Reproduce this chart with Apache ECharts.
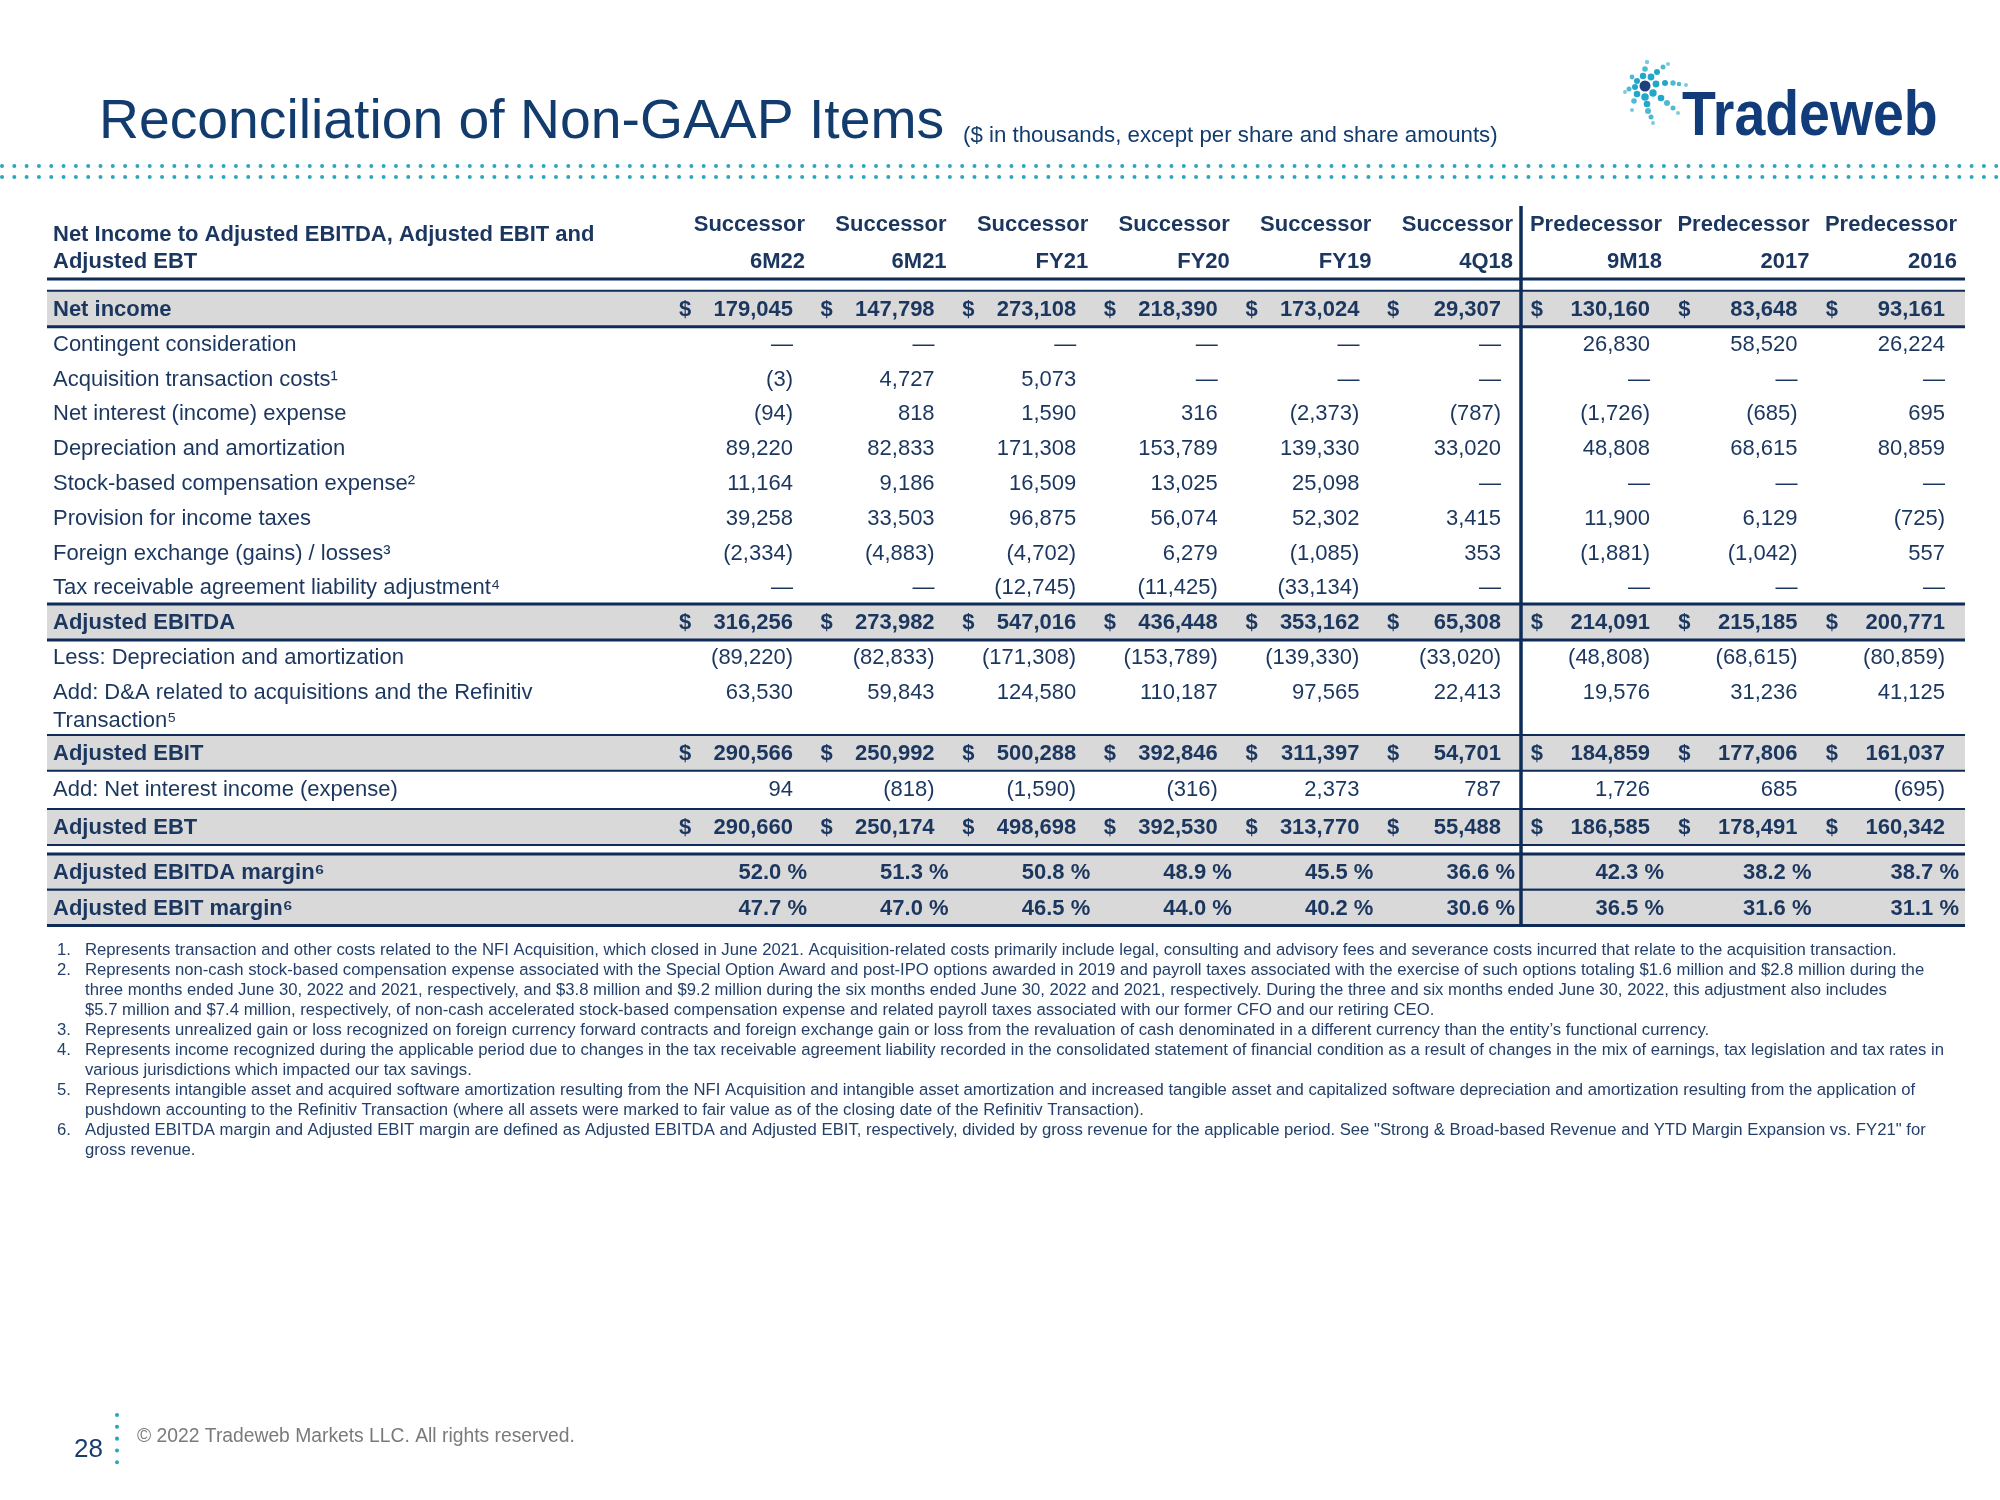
<!DOCTYPE html>
<html><head><meta charset="utf-8">
<script src="https://cdn.jsdelivr.net/npm/echarts@6/dist/echarts.min.js"></script>
<style>html,body{margin:0;padding:0;background:#fff}#c{width:2000px;height:1500px}</style>
</head><body><div id="c"></div>
<script>
// ================= DATA =================
const entities = ['Successor','Successor','Successor','Successor','Successor','Successor','Predecessor','Predecessor','Predecessor'];
const periods  = ['6M22','6M21','FY21','FY20','FY19','4Q18','9M18','2017','2016'];
const tableTitle = ['Net Income to Adjusted EBITDA, Adjusted EBIT and', 'Adjusted EBT'];
const rowLabels = [
  'Net income',
  'Contingent consideration',
  'Acquisition transaction costs\u00B9',
  'Net interest (income) expense',
  'Depreciation and amortization',
  'Stock-based compensation expense\u00B2',
  'Provision for income taxes',
  'Foreign exchange (gains) / losses\u00B3',
  'Tax receivable agreement liability adjustment\u2074',
  'Adjusted EBITDA',
  'Less: Depreciation and amortization',
  'Add: D&A related to acquisitions and the Refinitiv\nTransaction\u2075',
  'Adjusted EBIT',
  'Add: Net interest income (expense)',
  'Adjusted EBT',
  'Adjusted EBITDA margin\u2076',
  'Adjusted EBIT margin\u2076'
];
const netIncome    = [179045, 147798, 273108, 218390, 173024, 29307, 130160, 83648, 93161];
const contingent   = [null, null, null, null, null, null, 26830, 58520, 26224];
const acqCosts     = [-3, 4727, 5073, null, null, null, null, null, null];
const netInterest  = [-94, 818, 1590, 316, -2373, -787, -1726, -685, 695];
const depAmort     = [89220, 82833, 171308, 153789, 139330, 33020, 48808, 68615, 80859];
const stockComp    = [11164, 9186, 16509, 13025, 25098, null, null, null, null];
const incomeTaxes  = [39258, 33503, 96875, 56074, 52302, 3415, 11900, 6129, -725];
const fxGainsLoss  = [-2334, -4883, -4702, 6279, -1085, 353, -1881, -1042, 557];
const traAdjust    = [null, null, -12745, -11425, -33134, null, null, null, null];
const adjEbitda    = [316256, 273982, 547016, 436448, 353162, 65308, 214091, 215185, 200771];
const lessDepAmort = [-89220, -82833, -171308, -153789, -139330, -33020, -48808, -68615, -80859];
const addAcqDA     = [63530, 59843, 124580, 110187, 97565, 22413, 19576, 31236, 41125];
const adjEbit      = [290566, 250992, 500288, 392846, 311397, 54701, 184859, 177806, 161037];
const addInterest  = [94, -818, -1590, -316, 2373, 787, 1726, 685, -695];
const adjEbt       = [290660, 250174, 498698, 392530, 313770, 55488, 186585, 178491, 160342];
const ebitdaMargin = [52.0, 51.3, 50.8, 48.9, 45.5, 36.6, 42.3, 38.2, 38.7];
const ebitMargin   = [47.7, 47.0, 46.5, 44.0, 40.2, 30.6, 36.5, 31.6, 31.1];
const rowKind = ['total','item','item','item','item','item','item','item','item','total','item','item','total','item','total','pct','pct'];
const footnotes = [
  ['1.', 'Represents transaction and other costs related to the NFI Acquisition, which closed in June 2021. Acquisition-related costs primarily include legal, consulting and advisory fees and severance costs incurred that relate to the acquisition transaction.'],
  ['2.', 'Represents non-cash stock-based compensation expense associated with the Special Option Award and post-IPO options awarded in 2019 and payroll taxes associated with the exercise of such options totaling $1.6 million and $2.8 million during the'],
  ['',   'three months ended June 30, 2022 and 2021, respectively, and $3.8 million and $9.2 million during the six months ended June 30, 2022 and 2021, respectively. During the three and six months ended June 30, 2022, this adjustment also includes'],
  ['',   '$5.7 million and $7.4 million, respectively, of non-cash accelerated stock-based compensation expense and related payroll taxes associated with our former CFO and our retiring CEO.'],
  ['3.', 'Represents unrealized gain or loss recognized on foreign currency forward contracts and foreign exchange gain or loss from the revaluation of cash denominated in a different currency than the entity\u2019s functional currency.'],
  ['4.', 'Represents income recognized during the applicable period due to changes in the tax receivable agreement liability recorded in the consolidated statement of financial condition as a result of changes in the mix of earnings, tax legislation and tax rates in'],
  ['',   'various jurisdictions which impacted our tax savings.'],
  ['5.', 'Represents intangible asset and acquired software amortization resulting from the NFI Acquisition and intangible asset amortization and increased tangible asset and capitalized software depreciation and amortization resulting from the application of'],
  ['',   'pushdown accounting to the Refinitiv Transaction (where all assets were marked to fair value as of the closing date of the Refinitiv Transaction).'],
  ['6.', 'Adjusted EBITDA margin and Adjusted EBIT margin are defined as Adjusted EBITDA and Adjusted EBIT, respectively, divided by gross revenue for the applicable period. See "Strong & Broad-based Revenue and YTD Margin Expansion vs. FY21" for'],
  ['',   'gross revenue.']
];
const pageTitle = 'Reconciliation of Non-GAAP Items';
const pageSubtitle = '($ in thousands, except per share and share amounts)';
const pageNumber = '28';
const copyright = '\u00A9 2022 Tradeweb Markets LLC. All rights reserved.';
const tableRows = [netIncome, contingent, acqCosts, netInterest, depAmort, stockComp, incomeTaxes,
  fxGainsLoss, traAdjust, adjEbitda, lessDepAmort, addAcqDA, adjEbit, addInterest, adjEbt, ebitdaMargin, ebitMargin];

// ================= LAYOUT / STYLE =================
const FONT = '"Liberation Sans", Arial, sans-serif';
const TEXT = '#1b365f';
const LINE = '#0f2c59';
const BAND = '#d9d9d9';
const TITLE_C = '#123c6e';
const ROW_SLOT = [0,1,2,3,4,5,6,7,8,9,10,11,12.76,13.79,14.89,16.18,17.21];
const HEAD_SLOT = [-2.44, -1.38];
const TITLE_SLOT = [-2.16, -1.38];
const LINE2_STEP = 0.8;
const BAND_ROWS = [0, 9, 12, 14, 15, 16];
const BAND_W = [[2,3],[3,3],[2,2],[2,2],[3,2],[2,3]];
const TABLE_L = 47, TABLE_R = 1965, LABEL_X = 53, DIVIDER_X = 1521;
const SLOT_MIN = -3, SLOT_MAX = 18;
// logo sunburst dots: [x, y, r, colour index]
const LOGO_DOTS = [
  [1656,84,3.4,0],[1665,83,3,0],[1673,83,2.7,1],[1679,84,2.3,1],[1686,85,2,2],
  [1651,77,3.4,0],[1657,72,3,0],[1663,67,2.5,1],[1668,64,2,2],
  [1643,76,3.2,0],[1645,69,2.8,1],[1647,62,2.2,2],
  [1637,81,3,0],[1632,77,2.4,1],
  [1635,87,3,0],[1629,89,2.5,1],[1625,92,2,2],
  [1637,94,3.3,0],[1634,101,2.8,1],[1632,110,2.1,2],
  [1645,97,3.8,0],[1647,104,3.3,0],[1648,111,3,1],[1651,117,2.5,1],[1653,123,2,2],
  [1653,93,3.7,0],[1661,98,3.3,0],[1667,103,3,1],[1673,108,2.5,1],[1678,113,2,2]
];
const LOGO_COLS = ['#23a7c9', '#4fb9d4', '#7fcadd'];

function fmtNum(v) {
  if (v === null || v === undefined) return '\u2014';
  const s = String(Math.abs(v)).replace(/\B(?=(\d{3})+(?!\d))/g, ',');
  return v < 0 ? '(' + s + ')' : s;
}
function txt(x, y, s, align, bold, size, color) {
  return { type: 'text', x: x, y: y, style: {
    text: s, fill: color || TEXT, fontSize: size || 22, fontFamily: FONT,
    fontWeight: bold ? 'bold' : 'normal', align: align, verticalAlign: 'middle' } };
}

const chart = echarts.init(document.getElementById('c'), null, { renderer: 'canvas' });

const gridTop = 205.6, gridH = 730.8;
const grids = [
  { left: 663.4, width: 849.6, top: gridTop, height: gridH },
  { left: 1514.5, width: 442.5, top: gridTop, height: gridH }
];
const colGroups = [[0,1,2,3,4,5],[6,7,8]];

// band/line series data
const bandData = BAND_ROWS.map((r, k) => [0, ROW_SLOT[r], 0, k]);
bandData.push([0, -0.89, 1, 0]);   // header underline
bandData.push([0, 0, 2, 0]);       // vertical divider

function renderBand(params, api) {
  const kind = api.value(2), k = api.value(3), slot = api.value(1);
  if (kind === 0) {
    const y1 = api.coord([0, slot - 0.55])[1], y2 = api.coord([0, slot + 0.48])[1];
    const w = BAND_W[k];
    return { type: 'group', children: [
      { type: 'rect', shape: { x: TABLE_L, y: y1, width: TABLE_R - TABLE_L, height: y2 - y1 }, style: { fill: BAND } },
      { type: 'line', shape: { x1: TABLE_L, y1: y1, x2: TABLE_R, y2: y1 }, style: { stroke: LINE, lineWidth: w[0] } },
      { type: 'line', shape: { x1: TABLE_L, y1: y2, x2: TABLE_R, y2: y2 }, style: { stroke: LINE, lineWidth: w[1] } }
    ]};
  } else if (kind === 1) {
    const y = api.coord([0, slot])[1];
    return { type: 'line', shape: { x1: TABLE_L, y1: y, x2: TABLE_R, y2: y }, style: { stroke: LINE, lineWidth: 3 } };
  } else {
    const yA = api.coord([0, -2.99])[1], yB = api.coord([0, 17.73])[1];
    return { type: 'line', shape: { x1: DIVIDER_X, y1: yA, x2: DIVIDER_X, y2: yB }, style: { stroke: LINE, lineWidth: 3.5 } };
  }
}

// row label series
const labelData = rowLabels.map((l, r) => [0, ROW_SLOT[r], r]);
labelData.push([0, TITLE_SLOT[0], -1]);
labelData.push([0, TITLE_SLOT[1], -2]);
function renderLabel(params, api) {
  const r = api.value(2), slot = api.value(1);
  if (r < 0) {
    const y = api.coord([0, slot])[1];
    return txt(LABEL_X, y, tableTitle[-r - 1], 'left', true, 22);
  }
  const lines = rowLabels[r].split('\n');
  const bold = rowKind[r] !== 'item';
  return { type: 'group', children: lines.map((ln, i) =>
    txt(LABEL_X, api.coord([0, slot + i * LINE2_STEP])[1], ln, 'left', bold, 22)) };
}

function cellData(g) {
  const out = [];
  colGroups[g].forEach((c, ci) => tableRows.forEach((vals, r) => out.push([ci, ROW_SLOT[r], r, c])));
  return out;
}
function renderCell(params, api) {
  const ci = api.value(0), slot = api.value(1), r = api.value(2), c = api.value(3);
  const p = api.coord([ci, slot]);
  const bw = api.size([1, 0])[0];
  const right = p[0] + bw / 2;
  const kind = rowKind[r], v = tableRows[r][c];
  const kids = [];
  if (kind === 'pct') {
    kids.push(txt(right + 2, p[1], v.toFixed(1) + ' %', 'right', true));
  } else {
    kids.push(txt(right - 12, p[1], fmtNum(v), 'right', kind === 'total'));
    if (kind === 'total') kids.push(txt(right - bw * 0.89, p[1], '$', 'left', true));
  }
  return { type: 'group', children: kids };
}
function headData(g) { return colGroups[g].map((c, ci) => [ci, 0, c]); }
function renderHead(params, api) {
  const ci = api.value(0), c = api.value(2);
  const p1 = api.coord([ci, HEAD_SLOT[0]]), p2 = api.coord([ci, HEAD_SLOT[1]]);
  const bw = api.size([1, 0])[0];
  const right = p1[0] + bw / 2;
  return { type: 'group', children: [
    txt(right, p1[1], entities[c], 'right', true),
    txt(right, p2[1], periods[c], 'right', true)
  ]};
}

// decorative graphics
const graphics = [];
graphics.push({ type: 'line', shape: { x1: 2, y1: 166, x2: 2000, y2: 166 },
  style: { stroke: '#2ea6b9', lineWidth: 4, lineDash: [0.01, 12.3], lineCap: 'round' } });
graphics.push({ type: 'line', shape: { x1: 2, y1: 177, x2: 2000, y2: 177 },
  style: { stroke: '#2ea6b9', lineWidth: 4, lineDash: [0.01, 12.3], lineCap: 'round' } });
graphics.push({ type: 'text', x: 99, y: 123, style: { text: pageTitle, fontSize: 55.3, fontFamily: FONT, fill: TITLE_C, verticalAlign: 'middle' } });
graphics.push({ type: 'text', x: 963, y: 136, scaleX: 1.012, style: { text: pageSubtitle, fontSize: 22, fontFamily: FONT, fill: TITLE_C, verticalAlign: 'middle' } });
graphics.push({ type: 'text', x: 1682, y: 118, scaleX: 0.88, style: { text: 'Tradeweb', fontSize: 63, fontWeight: 'bold', fontFamily: FONT, fill: '#123c79', verticalAlign: 'middle' } });
LOGO_DOTS.forEach(d => graphics.push({ type: 'circle', shape: { cx: d[0], cy: d[1], r: d[2] }, style: { fill: LOGO_COLS[d[3]] } }));
graphics.push({ type: 'circle', shape: { cx: 1645, cy: 86, r: 5.5 }, style: { fill: '#1d3f7c' } });
// footnotes
footnotes.forEach((f, i) => {
  const y = 950 + i * 20;
  if (f[0]) graphics.push({ type: 'text', x: 57, y: y, style: { text: f[0], fontSize: 16.7, fontFamily: FONT, fill: '#24406a', verticalAlign: 'middle' } });
  graphics.push({ type: 'text', x: 85, y: y, style: { text: f[1], fontSize: 16.7, fontFamily: FONT, fill: '#24406a', verticalAlign: 'middle' } });
});
// footer
graphics.push({ type: 'text', x: 74, y: 1450, style: { text: pageNumber, fontSize: 26, fontFamily: FONT, fill: '#1b3d6e', verticalAlign: 'middle' } });
graphics.push({ type: 'line', shape: { x1: 117, y1: 1415, x2: 117, y2: 1464 },
  style: { stroke: '#27a6b8', lineWidth: 4, lineDash: [0.01, 11.8], lineCap: 'round' } });
graphics.push({ type: 'text', x: 137, y: 1437, style: { text: copyright, fontSize: 19.3, fontFamily: FONT, fill: '#7a7a7a', verticalAlign: 'middle' } });

const yAx = g => ({ type: 'value', gridIndex: g, inverse: true, min: SLOT_MIN, max: SLOT_MAX, show: false });
const option = {
  animation: false,
  backgroundColor: '#ffffff',
  grid: grids,
  xAxis: [
    { type: 'category', gridIndex: 0, data: colGroups[0].map(c => periods[c]), show: false },
    { type: 'category', gridIndex: 1, data: colGroups[1].map(c => periods[c]), show: false }
  ],
  yAxis: [yAx(0), yAx(1)],
  graphic: { elements: graphics },
  series: [
    { type: 'custom', name: 'bands', xAxisIndex: 0, yAxisIndex: 0, data: bandData, renderItem: renderBand, z: 1, silent: true },
    { type: 'custom', name: 'labels', xAxisIndex: 0, yAxisIndex: 0, data: labelData, renderItem: renderLabel, z: 5, silent: true },
    { type: 'custom', name: 'successor', xAxisIndex: 0, yAxisIndex: 0, data: cellData(0), renderItem: renderCell, z: 5, silent: true },
    { type: 'custom', name: 'predecessor', xAxisIndex: 1, yAxisIndex: 1, data: cellData(1), renderItem: renderCell, z: 5, silent: true },
    { type: 'custom', name: 'headS', xAxisIndex: 0, yAxisIndex: 0, data: headData(0), renderItem: renderHead, z: 5, silent: true },
    { type: 'custom', name: 'headP', xAxisIndex: 1, yAxisIndex: 1, data: headData(1), renderItem: renderHead, z: 5, silent: true }
  ]
};
chart.setOption(option);
</script>
</body></html>
